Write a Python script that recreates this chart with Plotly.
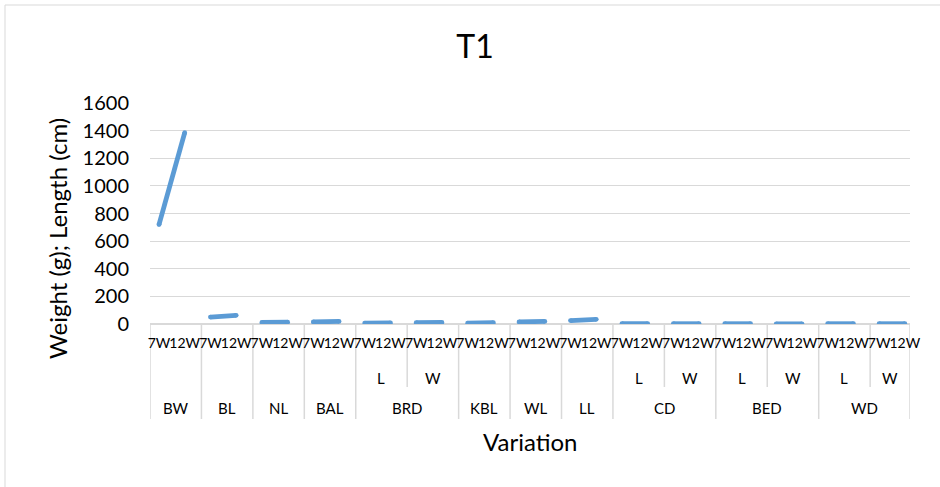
import plotly.graph_objects as go

# Category structure: one column per (group, sub-group), two weeks per column
col_group = ["BW", "BL", "NL", "BAL", "BRD", "BRD", "KBL", "WL", "LL",
             "CD", "CD", "BED", "BED", "WD", "WD"]
col_sub = ["", "", "", "", "L", "W", "", "", "", "L", "W", "L", "W", "L", "W"]
weeks = ["7W", "12W"]

# Measured values per column
week7 = [720, 50, 11, 15, 7, 9, 6, 15, 25, 2, 2, 2, 1, 2, 2]
week12 = [1385, 63, 13, 19, 8, 11, 9, 19, 34, 3, 2, 2, 1, 2, 2]

LINE_COLOR = "#5B9BD5"
GRID_COLOR = "#D9D9D9"
FONT = "Lato"

n_cols = len(col_group)
x_min, x_max = -0.35, 29.2

# Series with a break between columns
xs, ys = [], []
for i in range(n_cols):
    xs += [2 * i, 2 * i + 1, None]
    ys += [week7[i], week12[i], None]

fig = go.Figure()
fig.add_trace(go.Scatter(
    x=xs, y=ys, mode="lines+markers", connectgaps=False,
    line=dict(color=LINE_COLOR, width=4.8),
    marker=dict(color=LINE_COLOR, size=4.8),
    hoverinfo="skip", showlegend=False,
))

shapes = []
annotations = []

# Paper-space helpers (plot area: x 150..910 px, y 103..324 px)
def py(px_y):
    return (324 - px_y) / 221.0

def px(px_x):
    return (px_x - 150) / 760.0

y_full = py(419)
y_sub = py(387)

# Column boundaries of the multi-level axis table
def col_edge(k):
    return 2 * k + x_min

for k in range(n_cols + 1):
    if k == 0:
        x_edge, full = x_min, True
    elif k == n_cols:
        x_edge, full = x_max, True
    else:
        x_edge = col_edge(k)
        full = col_group[k] != col_group[k - 1]
    shapes.append(dict(
        type="line", xref="x", yref="paper",
        x0=x_edge, x1=x_edge, y0=0, y1=y_full if full else y_sub,
        line=dict(color=GRID_COLOR, width=1.5), layer="below",
    ))

# Sub-group labels (L / W)
for i in range(n_cols):
    if col_sub[i]:
        left = col_edge(i)
        right = min(col_edge(i + 1), x_max)
        annotations.append(dict(
            x=(left + right) / 2, y=py(378), xref="x", yref="paper",
            text=col_sub[i], showarrow=False, yanchor="middle",
            font=dict(family=FONT, size=15, color="black"),
        ))

# Group labels
i = 0
while i < n_cols:
    j = i
    while j + 1 < n_cols and col_group[j + 1] == col_group[i]:
        j += 1
    left = col_edge(i)
    right = min(col_edge(j + 1), x_max)
    annotations.append(dict(
        x=(left + right) / 2, y=py(408), xref="x", yref="paper",
        text=col_group[i], showarrow=False, yanchor="middle",
        font=dict(family=FONT, size=15, color="black"),
    ))
    i = j + 1

# Axis titles
annotations.append(dict(
    x=0.5, y=py(441), xref="paper", yref="paper", text="Variation",
    showarrow=False, yanchor="middle",
    font=dict(family=FONT, size=24, color="black"),
))
annotations.append(dict(
    x=px(57), y=py(239), xref="paper", yref="paper",
    text="Weight (g); Length (cm)", textangle=-90,
    showarrow=False, xanchor="center", yanchor="middle",
    font=dict(family=FONT, size=24, color="black"),
))

# Chart area border
shapes.append(dict(
    type="rect", xref="paper", yref="paper",
    x0=px(5), x1=px(960), y0=py(500), y1=py(5),
    line=dict(color=GRID_COLOR, width=1), layer="below",
))

tick_vals = list(range(2 * n_cols))
tick_text = [weeks[t % 2] for t in tick_vals]

fig.update_layout(
    width=940, height=487,
    margin=dict(l=150, r=30, t=103, b=163),
    paper_bgcolor="white", plot_bgcolor="white",
    font=dict(family=FONT, color="black"),
    title=dict(
        text="T1", xref="container", yref="container",
        x=475 / 940, y=1 - 47 / 487, xanchor="center", yanchor="middle",
        font=dict(family=FONT, size=32, color="black"),
    ),
    xaxis=dict(
        range=[x_min, x_max], tickmode="array",
        tickvals=tick_vals, ticktext=tick_text, tickangle=0,
        showgrid=False, zeroline=False, showline=False, ticks="",
        tickfont=dict(family=FONT, size=14, color="black"),
        ticklabelstandoff=9,
    ),
    yaxis=dict(
        range=[0, 1600], tickmode="array",
        tickvals=list(range(0, 1601, 200)),
        showgrid=True, gridcolor=GRID_COLOR, gridwidth=1.3,
        zeroline=True, zerolinecolor=GRID_COLOR, zerolinewidth=1.5,
        showline=False, ticks="",
        tickfont=dict(family=FONT, size=20, color="black"),
        ticklabelstandoff=20,
    ),
    shapes=shapes, annotations=annotations,
)

fig.write_html("out.html")
